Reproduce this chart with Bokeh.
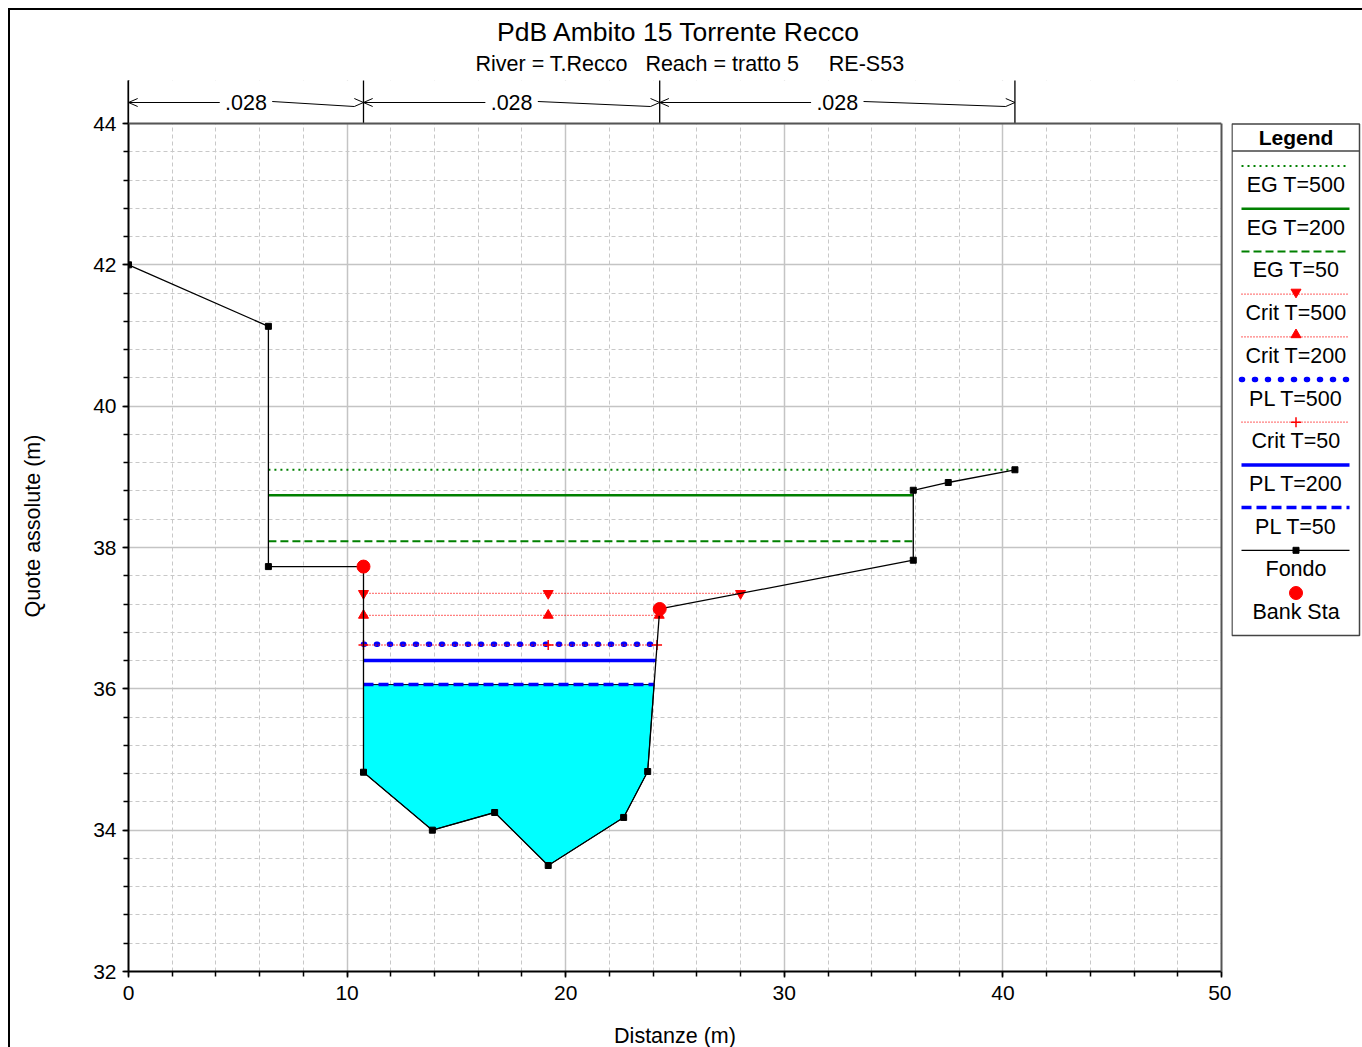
import numpy as np
from bokeh.plotting import figure
from bokeh.layouts import column, row
from bokeh.models import Range1d, SingleIntervalTicker, FixedTicker, Label, BoxAnnotation, Span
from bokeh.embed import file_html
from bokeh.resources import INLINE

FONT = "Liberation Sans"

# ---------------- data ----------------
station = [0.0, 6.4, 6.4, 10.75, 10.75, 13.9, 16.75, 19.2, 22.65, 23.75, 24.3, 35.9, 35.9, 37.5, 40.55]
elev = [42.0, 41.13, 37.73, 37.73, 34.82, 34.0, 34.25, 33.5, 34.18, 34.83, 37.13, 37.82, 38.81, 38.92, 39.10]
bank_sta = [10.75, 24.3]
bank_elev = [37.73, 37.13]
mann_n = [0.028, 0.028, 0.028]
n_breaks = [0.0, 10.75, 24.3, 40.55]

eg_500, eg_200, eg_50 = 39.10, 38.74, 38.09
crit_500, crit_200, crit_50 = 37.35, 37.04, 36.62
pl_500, pl_200, pl_50 = 36.63, 36.40, 36.06

y_ticks = [32, 34, 36, 38, 40, 42, 44]
x_ticks = [0, 10, 20, 30, 40, 50]

title_text = "PdB Ambito 15 Torrente Recco"
subtitle_text = "River = T.Recco\u00a0\u00a0\u00a0Reach = tratto 5\u00a0\u00a0\u00a0\u00a0\u00a0RE-S53"
x_label = "Distanze (m)"
y_label = "Quote assolute (m)"

st = np.array(station)
el = np.array(elev)
imin = int(np.argmin(el))
x_thalweg = st[imin]


def extent(z):
    i = imin
    while i > 0 and el[i - 1] < z:
        i -= 1
    if i > 0:
        xl = st[i - 1] + (z - el[i - 1]) * (st[i] - st[i - 1]) / (el[i] - el[i - 1])
    else:
        xl = st[0]
    j = imin
    while j < len(st) - 1 and el[j + 1] < z:
        j += 1
    if j < len(st) - 1:
        xr = st[j] + (z - el[j]) * (st[j + 1] - st[j]) / (el[j + 1] - el[j])
    else:
        xr = st[-1]
    return xl, xr, i, j


# ---------------- geometry of the page ----------------
FRAME_TOP_PX = 80      # top of drawing area (n-value bars start here)
AXIS_TOP_PX = 123      # y = 44
AXIS_BOT_PX = 971      # y = 32
MAIN_BOTTOM_PX = 1011  # bottom of the main figure (tick labels inside)
ppu = (AXIS_BOT_PX - AXIS_TOP_PX) / (y_ticks[-1] - y_ticks[0])
y_top = y_ticks[-1] + (AXIS_TOP_PX - FRAME_TOP_PX) / ppu
main_h = MAIN_BOTTOM_PX - FRAME_TOP_PX
bottom_border = MAIN_BOTTOM_PX - AXIS_BOT_PX


def above(px):
    """elevation of a pixel row located above the y=44 line"""
    return y_ticks[-1] + (AXIS_TOP_PX - px) / ppu


# ---------------- main figure ----------------
p = figure(width=1221, height=main_h, x_range=Range1d(x_ticks[0], x_ticks[-1]),
           y_range=Range1d(y_ticks[0], y_top),
           output_backend="svg", toolbar_location=None, title_location=None,
           min_border_left=118, min_border_right=10, min_border_top=0, min_border_bottom=bottom_border)
p.background_fill_color = "white"
p.outline_line_color = None

xt = SingleIntervalTicker(interval=10, num_minor_ticks=5)
yt = FixedTicker(ticks=y_ticks,
                 minor_ticks=[float(v) for v in np.round(np.arange(y_ticks[0], y_ticks[-1] + 1e-6, 0.4), 2)])
p.xaxis.ticker = xt
p.yaxis.ticker = yt
p.xgrid.ticker = xt
p.ygrid.ticker = yt
for g in (p.xgrid, p.ygrid):
    g.grid_line_color = "#c4c4c4"
    g.grid_line_width = 1.5
    g.minor_grid_line_color = "#c8c8c8"
    g.minor_grid_line_dash = "4 3"
    g.minor_grid_line_width = 1
for ax in (p.xaxis, p.yaxis):
    ax.axis_line_color = "black"
    ax.axis_line_width = 2
    ax.major_tick_line_color = "black"
    ax.minor_tick_line_color = "black"
    ax.major_tick_line_width = 1.5
    ax.minor_tick_line_width = 1.5
    ax.major_tick_in = 0
    ax.major_tick_out = 6
    ax.minor_tick_in = 0
    ax.minor_tick_out = 5
    ax.major_label_text_font = FONT
    ax.major_label_text_font_size = "21px"
    ax.major_label_text_color = "black"
    ax.axis_label_text_font = FONT
    ax.axis_label_text_font_size = "21.5px"
    ax.axis_label_text_font_style = "normal"
    ax.axis_label_text_color = "black"
p.yaxis.axis_label = y_label
p.xaxis.major_label_standoff = 8
p.yaxis.major_label_standoff = 6
p.yaxis.axis_label_standoff = 45

# hide grid above the y=44 line
p.add_layout(BoxAnnotation(bottom=y_ticks[-1], fill_color="white", fill_alpha=1.0, line_color=None))
# frame top and right edges
p.add_layout(Span(location=y_ticks[-1], dimension="width", line_color="#555555", line_width=2, level="overlay"))
p.segment(x0=[x_ticks[-1]], y0=[y_ticks[0]], x1=[x_ticks[-1]], y1=[y_ticks[-1]],
          line_color="#555555", line_width=2, level="overlay")

# water fill (PL T=50)
xl, xr, i0, j0 = extent(pl_50)
poly_x = [xl] + list(st[i0:j0 + 1]) + [xr]
poly_y = [pl_50] + list(el[i0:j0 + 1]) + [pl_50]
p.patch(poly_x, poly_y, fill_color="#00FFFF", line_color="black", line_width=1)

GREEN = "#008000"
RED = "#FF0000"
BLUE = "#0000FF"


def hline(z, **kw):
    a, b, _, _ = extent(z)
    p.line([a, b], [z, z], **kw)
    return a, b


hline(eg_500, line_color=GREEN, line_width=2, line_dash="2 4")
hline(eg_200, line_color=GREEN, line_width=2.5)
hline(eg_50, line_color=GREEN, line_width=2, line_dash="8 4")

a, b = hline(crit_500, line_color=RED, line_width=1.3, line_dash="1 2")
p.scatter([a, x_thalweg, b], [crit_500] * 3, marker="inverted_triangle", size=10, color=RED)
a, b = hline(crit_200, line_color=RED, line_width=1.3, line_dash="1 2")
p.scatter([a, x_thalweg, b], [crit_200] * 3, marker="triangle", size=10, color=RED)

hline(pl_500, line_color=BLUE, line_width=5.5, line_dash="1 12", line_cap="round")

a, b = hline(crit_50, line_color=RED, line_width=1.3, line_dash="1 2")
p.scatter([a, x_thalweg, b], [crit_50] * 3, marker="cross", size=10, line_color=RED, line_width=1.5)

hline(pl_200, line_color=BLUE, line_width=3.5)
hline(pl_50, line_color=BLUE, line_width=3.5, line_dash="10 5")

p.line(station, elev, line_color="black", line_width=1.3)
p.scatter(station, elev, marker="square", size=6, color="black")
p.scatter(bank_sta, bank_elev, marker="circle", size=13, color=RED)

# ---------------- Manning's n bars above the section ----------------
p.segment(x0=n_breaks, y0=[y_ticks[-1]] * len(n_breaks), x1=n_breaks, y1=[y_top] * len(n_breaks),
          line_color="black", line_width=1.3, level="overlay")
ym, yh, yl, yr0 = above(102), above(98), above(106), above(101)
d = 0.42
gap = 1.2
sx0, sy0, sx1, sy1 = [], [], [], []
for k, n in enumerate(mann_n):
    x0, x1 = n_breaks[k], n_breaks[k + 1]
    xm = 0.5 * (x0 + x1)
    sx0 += [x0, x0, x0]; sy0 += [ym, ym, ym]
    sx1 += [xm - gap, x0 + d, x0 + d]; sy1 += [ym, yh, yl]
    sx0 += [xm + gap, x1 - d, x1 - d]; sy0 += [yr0, yh, yl]
    sx1 += [x1 - d, x1, x1]; sy1 += [yl, ym, ym]
    p.add_layout(Label(x=xm, y=ym, text=("%.3f" % n).lstrip("0"), text_align="center",
                       text_baseline="middle", text_font=FONT, text_font_size="21.5px",
                       text_color="black", level="overlay"))
p.segment(x0=sx0, y0=sy0, x1=sx1, y1=sy1, line_color="black", line_width=1, level="overlay")

# ---------------- header figure (titles) ----------------
h = figure(width=1352, height=FRAME_TOP_PX - 10, x_range=Range1d(10, 1362), y_range=Range1d(FRAME_TOP_PX, 10),
           output_backend="svg", toolbar_location=None, title_location=None,
           x_axis_location=None, y_axis_location=None,
           min_border_left=0, min_border_right=0, min_border_top=0, min_border_bottom=0)
h.grid.visible = False
h.outline_line_color = None
h.add_layout(Label(x=678.5, y=31, text=title_text, text_align="center", text_baseline="middle",
                   text_font=FONT, text_font_size="26.5px", text_color="black"))
h.add_layout(Label(x=689.5, y=63, text=subtitle_text, text_align="center", text_baseline="middle",
                   text_font=FONT, text_font_size="21.5px", text_color="black"))

# ---------------- footer figure (x axis title) ----------------
f = figure(width=1352, height=1047 - MAIN_BOTTOM_PX, x_range=Range1d(10, 1362),
           y_range=Range1d(1047, MAIN_BOTTOM_PX),
           output_backend="svg", toolbar_location=None, title_location=None,
           x_axis_location=None, y_axis_location=None,
           min_border_left=0, min_border_right=0, min_border_top=0, min_border_bottom=0)
f.grid.visible = False
f.outline_line_color = None
f.add_layout(Label(x=674.5, y=1035, text=x_label, text_align="center", text_baseline="middle",
                   text_font=FONT, text_font_size="21.5px", text_color="black"))

# ---------------- legend figure ----------------
leg = figure(width=131, height=main_h, x_range=Range1d(0, 131), y_range=Range1d(AXIS_BOT_PX - FRAME_TOP_PX, 0),
             output_backend="svg", toolbar_location=None, title_location=None,
             x_axis_location=None, y_axis_location=None,
             min_border_left=0, min_border_right=0, min_border_top=0, min_border_bottom=bottom_border)
leg.grid.visible = False
leg.outline_line_color = None

BOX_T, BOX_B, BOX_L, BOX_R = 43.5, 555, 0.5, 128
leg.quad(left=[BOX_L], right=[BOX_R], top=[BOX_T], bottom=[BOX_B], fill_color=None,
         line_color="#444444", line_width=1.5)
leg.add_layout(Label(x=64.5, y=BOX_T + 13, text="Legend", text_align="center", text_baseline="middle",
                     text_font=FONT, text_font_size="21px", text_font_style="bold", text_color="black"))
leg.line([BOX_L, BOX_R], [BOX_T + 27, BOX_T + 27], line_color="#444444", line_width=1.5)

entries = ["EG T=500", "EG T=200", "EG T=50", "Crit T=500", "Crit T=200", "PL T=500",
           "Crit T=50", "PL T=200", "PL T=50", "Fondo", "Bank Sta"]
styles = [
    dict(line_color=GREEN, line_width=2, line_dash="2 4"),
    dict(line_color=GREEN, line_width=2.5),
    dict(line_color=GREEN, line_width=2, line_dash="8 4"),
    dict(line_color=RED, line_width=1.2, line_dash="1 2"),
    dict(line_color=RED, line_width=1.2, line_dash="1 2"),
    dict(line_color=BLUE, line_width=5.5, line_dash="1 12", line_cap="round"),
    dict(line_color=RED, line_width=1.2, line_dash="1 2"),
    dict(line_color=BLUE, line_width=3.5),
    dict(line_color=BLUE, line_width=3.5, line_dash="10 5"),
    dict(line_color="black", line_width=1.3),
    None,
]
step = 42.7
for k, (name, sty) in enumerate(zip(entries, styles)):
    ys = BOX_T + 42 + k * step
    if sty is not None:
        leg.line([10, 118], [ys, ys], **sty)
    if name == "Crit T=500":
        leg.scatter([64.5], [ys - 2], marker="inverted_triangle", size=10, color=RED)
    elif name == "Crit T=200":
        leg.scatter([64.5], [ys - 2], marker="triangle", size=10, color=RED)
    elif name == "Crit T=50":
        leg.scatter([64.5], [ys], marker="cross", size=10, line_color=RED, line_width=1.5)
    elif name == "Fondo":
        leg.scatter([64.5], [ys], marker="square", size=6, color="black")
    elif name == "Bank Sta":
        leg.scatter([64.5], [ys], marker="circle", size=13, color=RED)
    leg.add_layout(Label(x=64.5, y=ys + 19, text=name, text_align="center", text_baseline="middle",
                         text_font=FONT, text_font_size="21.5px", text_color="black"))

layout = column(h, row(p, leg), f,
                styles={"margin-left": "8px", "margin-top": "8px",
                        "border-left": "2px solid black", "border-top": "2px solid black"})

open("out.html", "w").write(file_html(layout, INLINE))
